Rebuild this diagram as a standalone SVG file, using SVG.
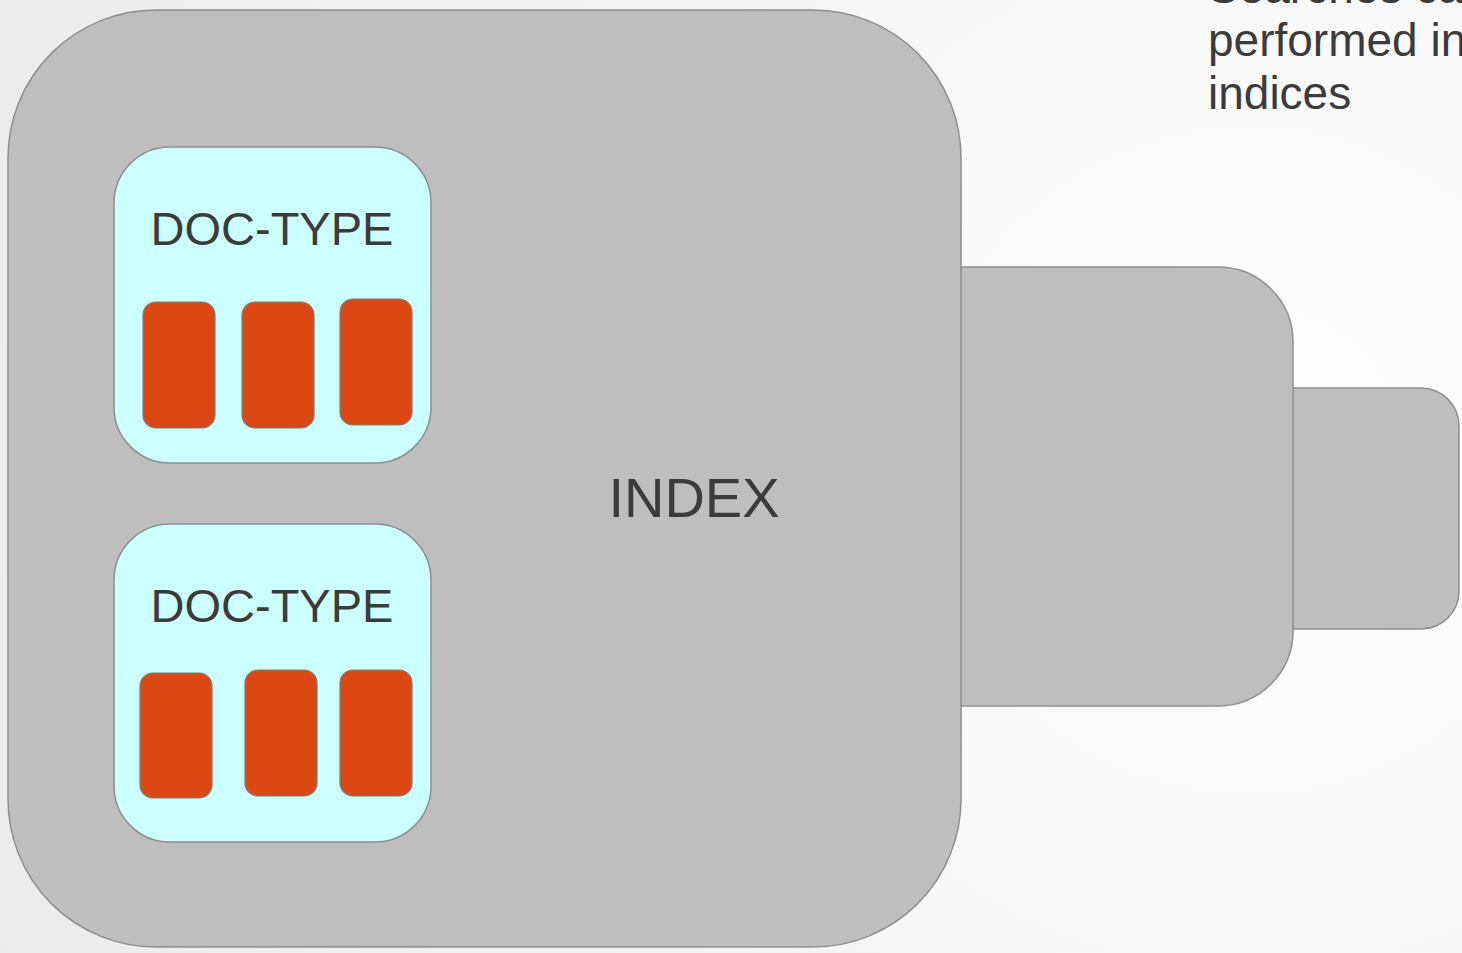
<svg xmlns="http://www.w3.org/2000/svg" width="1462" height="953" viewBox="0 0 1462 953">
  <defs>
    <radialGradient id="bg" cx="1250" cy="460" r="1350" gradientUnits="userSpaceOnUse">
      <stop offset="0" stop-color="#ffffff"/>
      <stop offset="1" stop-color="#ebebeb"/>
    </radialGradient>
    <style>
      .shard { fill: #bebebe; stroke: #8e8e8e; stroke-width: 1.5; }
      .doctype { fill: #ccffff; stroke: #8e8e8e; stroke-width: 1.5; }
      .doc { fill: #dc4814; stroke: #7d7d7d; stroke-width: 1.2; }
      .label { font-family: "Liberation Sans", Arial, sans-serif; fill: #3b3b3b; }
    </style>
  </defs>

  <!-- page background -->
  <rect width="1462" height="953" fill="url(#bg)"/>

  <!-- caption, partly running off the top-right edge -->
  <text class="label" x="1208" font-size="46">
    <tspan x="1208" y="3">Searches can be</tspan>
    <tspan x="1208" y="56">performed in multiple</tspan>
    <tspan x="1208" y="109">indices</tspan>
  </text>

  <!-- further indices stacked behind the main one -->
  <g id="index-3">
    <path class="shard" d="M1270 388 H1421 A38 38 0 0 1 1459 426 V591 A38 38 0 0 1 1421 629 H1270 Z"/>
  </g>
  <g id="index-2">
    <path class="shard" d="M940 267 H1218 A75 75 0 0 1 1293 342 V631 A75 75 0 0 1 1218 706 H940 Z"/>
  </g>

  <!-- main index -->
  <g id="index">
    <rect class="shard" x="8" y="10" width="953" height="937" rx="148" ry="148"/>
    <text class="label" x="694" y="517" font-size="56" text-anchor="middle">INDEX</text>
  </g>

  <!-- document types inside the index -->
  <g id="doctype-1">
    <rect class="doctype" x="114" y="147" width="317" height="316" rx="56" ry="56"/>
    <text class="label" x="272" y="245" font-size="47" text-anchor="middle">DOC-TYPE</text>
    <rect class="doc" x="143" y="302" width="72" height="126" rx="13" ry="13"/>
    <rect class="doc" x="242" y="302" width="72" height="126" rx="13" ry="13"/>
    <rect class="doc" x="340" y="299" width="72" height="126" rx="13" ry="13"/>
  </g>
  <g id="doctype-2">
    <rect class="doctype" x="114" y="524" width="317" height="318" rx="56" ry="56"/>
    <text class="label" x="272" y="622" font-size="47" text-anchor="middle">DOC-TYPE</text>
    <rect class="doc" x="140" y="673" width="72" height="125" rx="13" ry="13"/>
    <rect class="doc" x="245" y="670" width="72" height="126" rx="13" ry="13"/>
    <rect class="doc" x="340" y="670" width="72" height="126" rx="13" ry="13"/>
  </g>
</svg>
